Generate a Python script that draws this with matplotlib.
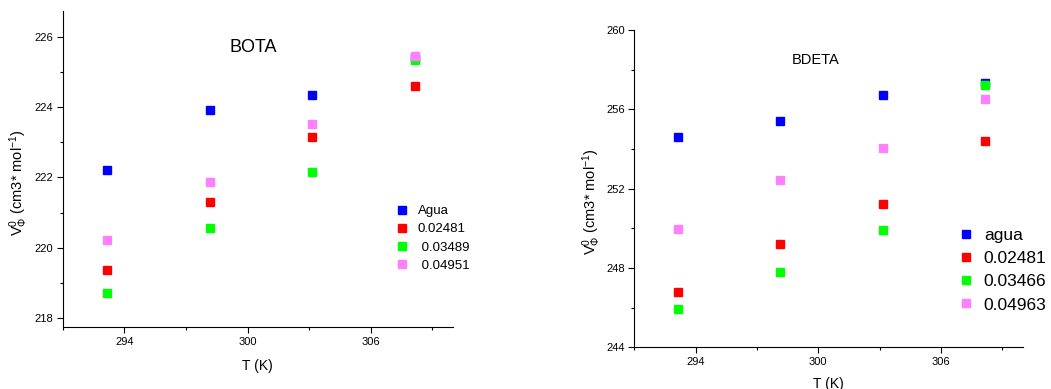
import matplotlib
matplotlib.use("Agg")
import matplotlib.pyplot as plt
from matplotlib.ticker import MultipleLocator

plt.rcParams["font.family"] = ["Liberation Sans", "DejaVu Sans"]
plt.rcParams["mathtext.fontset"] = "custom"
plt.rcParams["mathtext.rm"] = "Liberation Sans"
plt.rcParams["mathtext.it"] = "Liberation Sans"

# temperatures (K)
temps = [293.15, 298.15, 303.15, 308.15]

# BOTA
bota_labels = ["Agua", "0.02481", " 0.03489", " 0.04951"]
bota_agua = [222.21, 223.91, 224.35, 225.40]
bota_c1 = [219.38, 221.30, 223.15, 224.60]
bota_c2 = [218.72, 220.57, 222.15, 225.34]
bota_c3 = [220.22, 221.88, 223.51, 225.46]

# BDETA
bdeta_labels = ["agua", "0.02481", "0.03466", "0.04963"]
bdeta_agua = [254.62, 255.41, 256.71, 257.34]
bdeta_c1 = [246.77, 249.19, 251.21, 254.39]
bdeta_c2 = [245.91, 247.81, 249.93, 257.21]
bdeta_c3 = [249.98, 252.44, 254.05, 256.54]

colors = ["#0000ff", "#ff0000", "#00ff00", "#ff80ff"]

W, H = 1051, 389
fig = plt.figure(figsize=(W / 100, H / 100), dpi=100)

def px_axes(x0, y0, x1, y1):
    return fig.add_axes([x0 / W, 1 - y1 / H, (x1 - x0) / W, (y1 - y0) / H])

ylab = r"$\mathregular{V_{\Phi}^{0}}$ (cm3* mol$\mathregular{^{-1}}$)"

def style(ax, ymaj, ymin):
    for s in ["top", "right"]:
        ax.spines[s].set_visible(False)
    ax.set_xlim(291, 310)
    ax.xaxis.set_major_locator(MultipleLocator(6))
    ax.xaxis.set_minor_locator(MultipleLocator(3))
    ax.yaxis.set_major_locator(MultipleLocator(ymaj))
    ax.yaxis.set_minor_locator(MultipleLocator(ymin))
    ax.tick_params(which="major", direction="out", length=4, width=0.8, labelsize=8, pad=3)
    ax.tick_params(which="minor", direction="out", length=2.5, width=0.8)

# left panel
ax1 = px_axes(62.7, 11, 453, 327)
series1 = [bota_agua, bota_c1, bota_c2, bota_c3]
for vals, c, lab in zip(series1, colors, bota_labels):
    ax1.plot(temps, vals, "s", color=c, markersize=5.5, label=lab, linestyle="none")
ax1.set_ylim(217.75, 226.73)
style(ax1, 2, 1)
ax1.text(0.487, 0.885, "BOTA", transform=ax1.transAxes, fontsize=13, ha="center", va="center")
ax1.set_xlabel("T (K)", fontsize=10)
ax1.xaxis.set_label_coords(0.5, -0.1)
ax1.set_ylabel(ylab, fontsize=10.5)
ax1.yaxis.set_label_coords(-0.085, 0.456)
ax1.legend(loc="upper left", bbox_to_anchor=(394 / W, 1 - 205 / H), bbox_transform=fig.transFigure,
           frameon=False, fontsize=9.5, handlelength=1.2, handletextpad=0.6, borderpad=0,
           labelspacing=0.45, borderaxespad=0)

# right panel
ax2 = px_axes(634.3, 30, 1022.7, 347.3)
series2 = [bdeta_agua, bdeta_c1, bdeta_c2, bdeta_c3]
for vals, c, lab in zip(series2, colors, bdeta_labels):
    ax2.plot(temps, vals, "s", color=c, markersize=5.5, label=lab, linestyle="none")
ax2.set_ylim(244, 260)
style(ax2, 4, 2)
ax2.text(0.468, 0.905, "BDETA", transform=ax2.transAxes, fontsize=10.5, ha="center", va="center")
ax2.set_xlabel("T (K)", fontsize=10)
ax2.xaxis.set_label_coords(0.5, -0.095)
ax2.set_ylabel(ylab, fontsize=10.5)
ax2.yaxis.set_label_coords(-0.08, 0.458)
ax2.legend(loc="upper left", bbox_to_anchor=(956 / W, 1 - 228 / H), bbox_transform=fig.transFigure,
           frameon=False, fontsize=12.5, handlelength=1.2, handletextpad=0.4, borderpad=0,
           labelspacing=0.46, borderaxespad=0)

plt.savefig("out.png", dpi=100)
